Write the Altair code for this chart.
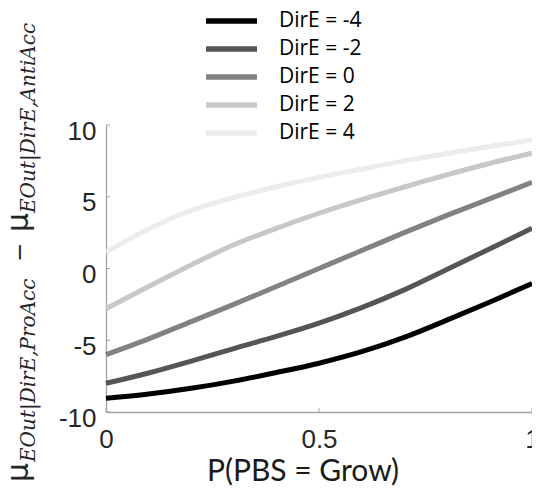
import altair as alt
import pandas as pd

# ---- data ----
X = [0.0, 0.1, 0.2, 0.3, 0.4, 0.5, 0.6, 0.7, 0.8, 0.9, 1.0]
Y_M4 = [-9.05, -8.75, -8.35, -7.85, -7.25, -6.6, -5.8, -4.8, -3.6, -2.35, -1.05]
Y_M2 = [-8.0, -7.28, -6.45, -5.58, -4.73, -3.81, -2.73, -1.49, -0.07, 1.36, 2.8]
Y_0 = [-6.0, -4.9, -3.7, -2.5, -1.25, 0.0, 1.25, 2.5, 3.7, 4.85, 6.0]
Y_P2 = [-2.8, -1.25, 0.25, 1.65, 2.8, 3.85, 4.8, 5.68, 6.53, 7.32, 8.03]
Y_P4 = [1.13, 2.75, 4.05, 4.95, 5.7, 6.35, 6.93, 7.5, 8.0, 8.5, 8.95]
SERIES = [Y_M4, Y_M2, Y_0, Y_P2, Y_P4]
LABELS = ["DirE = -4", "DirE = -2", "DirE = 0", "DirE = 2", "DirE = 4"]
COLORS = ["#000000", "#555555", "#828282", "#c8c8c8", "#ececec"]
XTICKS = [0, 0.5, 1]
YTICKS = [-10, -5, 0, 5, 10]
X_TITLE = "P(PBS = Grow)"
YLABEL_PARTS = ["μ", "EOut|DirE,ProAcc", "−", "μ", "EOut|DirE,AntiAcc"]

rows = []
for lab, ys in zip(LABELS, SERIES):
    for x, y in zip(X, ys):
        rows.append({"x": x, "y": y, "series": lab})
df = pd.DataFrame(rows)

W, H = 426, 287
AXC = "#a3a3a3"
TXT = "#262626"
xscale = alt.Scale(domain=[0, 1], nice=False, zero=False)
yscale = alt.Scale(domain=[-10, 10], nice=False, zero=False)

lines = alt.Chart(df).mark_line(strokeWidth=5, interpolate="monotone", strokeCap="butt").encode(
    x=alt.X("x:Q", scale=xscale, title=None, axis=alt.Axis(
        values=XTICKS, format="~g", ticks=False, grid=False, labelFlush=False,
        domainColor=AXC, domainWidth=1.3,
        labelFont="Liberation Sans", labelFontSize=26, labelColor=TXT,
        labelPadding=14)),
    y=alt.Y("y:Q", scale=yscale, title=None, axis=alt.Axis(
        values=YTICKS, labelExpr="'' + datum.value", ticks=False, grid=False,
        domainColor=AXC, domainWidth=1.3,
        labelFont="Liberation Sans", labelFontSize=26, labelColor=TXT,
        labelPadding=10, labelOffset=6)),
    color=alt.Color("series:N", sort=LABELS,
                    scale=alt.Scale(domain=LABELS, range=COLORS),
                    legend=alt.Legend(title=None, orient="none", legendX=97, legendY=-118,
                                      symbolType="stroke", symbolSize=2601, symbolStrokeWidth=5.5,
                                      clipHeight=28, rowPadding=0,
                                      labelFont="Open Sans", labelFontSize=21, labelColor="#000000",
                                      labelOffset=19, padding=0, symbolLimit=0)),
)

# small inward tick marks (MATLAB style)
ytick_marks = alt.Chart(pd.DataFrame({"y": YTICKS})).mark_rule(color=AXC, strokeWidth=1).encode(
    y=alt.Y("y:Q", scale=yscale, title=None, axis=alt.Axis(
        values=YTICKS, labelExpr="'' + datum.value", ticks=False, grid=False,
        domainColor=AXC, domainWidth=1.3,
        labelFont="Liberation Sans", labelFontSize=26, labelColor=TXT,
        labelPadding=10, labelOffset=6)),
    x=alt.value(0), x2=alt.value(4))
xtick_marks = alt.Chart(pd.DataFrame({"x": XTICKS})).mark_rule(color=AXC, strokeWidth=1).encode(
    x=alt.X("x:Q", scale=xscale, title=None, axis=alt.Axis(
        values=XTICKS, format="~g", ticks=False, grid=False, labelFlush=False,
        domainColor=AXC, domainWidth=1.3,
        labelFont="Liberation Sans", labelFontSize=26, labelColor=TXT,
        labelPadding=14)),
    y=alt.value(H), y2=alt.value(H - 4))


def ypart(txt, px, py, font, size, style="normal"):
    return alt.Chart(pd.DataFrame({"t": [txt]})).mark_text(
        angle=270, align="left", baseline="alphabetic", font=font, fontSize=size,
        fontStyle=style, color=TXT).encode(
        text="t:N", x=alt.value(px), y=alt.value(py))


ylab = [
    ypart(YLABEL_PARTS[0], -78, 357, "DejaVu Sans", 30),
    ypart(YLABEL_PARTS[1], -71, 337, "DejaVu Serif", 20, "italic"),
    ypart(YLABEL_PARTS[2], -79, 137, "DejaVu Sans", 23),
    ypart(YLABEL_PARTS[3], -78, 107, "DejaVu Sans", 30),
    ypart(YLABEL_PARTS[4], -71, 88, "DejaVu Serif", 20, "italic"),
]

xtitle = alt.Chart(pd.DataFrame({"t": [X_TITLE]})).mark_text(
    align="center", baseline="alphabetic", font="Lato", fontSize=30, color="#1a1a1a").encode(
    text="t:N", x=alt.value(197), y=alt.value(356))

chart = alt.layer(lines, ytick_marks, xtick_marks, xtitle, *ylab).properties(
    width=W, height=H,
    autosize=alt.AutoSizeParams(type="none"),
    padding={"left": 98, "top": 117, "right": 0, "bottom": 75},
    background="white",
).configure_view(stroke=None)

chart.save("out.html", embed_options={"renderer": "svg", "actions": False})
